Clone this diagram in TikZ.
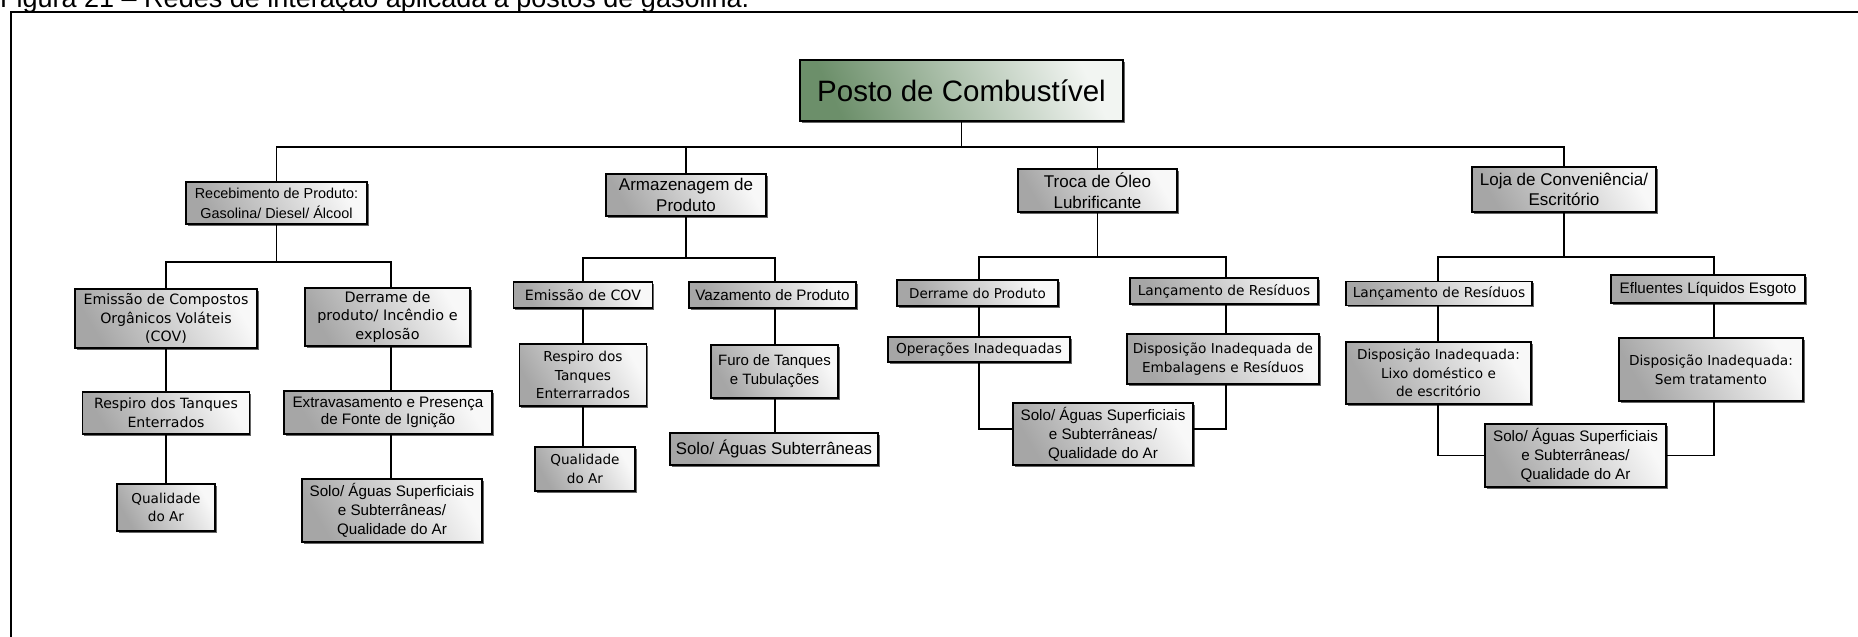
\documentclass[tikz,border=0pt]{standalone}
\usepackage{fontspec}
\setmainfont{Liberation Sans}
\newfontfamily\dejavu{DejaVu Sans}
\usetikzlibrary{shadows}

% greens of the root box, greys of the other boxes
\definecolor{gL}{HTML}{6C8F6A}
\definecolor{gM}{HTML}{B6CAB5}
\definecolor{gR}{HTML}{F2F5F2}
\definecolor{bL}{HTML}{A6A6A6}
\definecolor{bM}{HTML}{DADADA}
\definecolor{bR}{HTML}{F8F8F8}

\tikzset{
  wire/.style={line width=1.2pt, black},
  sz/.style 2 args={minimum width=#1pt, minimum height=#2pt},
  box/.style={draw=black, line width=1.3pt,
    left color=bL, middle color=bM, right color=bR, shading angle=120,
    inner sep=0pt, align=center,
    drop shadow={shadow xshift=1.6pt, shadow yshift=-1.6pt, fill=black, opacity=0.6}},
  rootbox/.style={draw=black, line width=1.8pt,
    left color=gL, middle color=gM, right color=gR, shading angle=115,
    inner sep=0pt, align=center,
    drop shadow={shadow xshift=1.8pt, shadow yshift=-1.8pt, fill=black, opacity=0.6}},
  dv/.style={font={\dejavu\fontsize{#1}{18.8}\selectfont}},
  ar/.style={font={\fontsize{#1}{19}\selectfont}},
  head/.style={font={\fontsize{17}{20.7}\selectfont}},
}

\begin{document}
\begin{tikzpicture}[x=1pt,y=-1pt]
\useasboundingbox (0,0) rectangle (1858,637);
\clip (0,0) rectangle (1858,637);

% caption, partly above the page edge
\node[anchor=base west, inner sep=0pt, font={\fontsize{27}{31}\selectfont}]
  (caption) at (0,7) {Figura 21 – Redes de interação aplicada a postos de gasolina.};

% frame
\draw[line width=1.6pt] (11,640) -- (11,12) -- (1860,12);

% root
\node[rootbox, sz={323}{61}, font={\fontsize{29.5}{34}\selectfont}]
  (posto) at (961.5,90.5) {Posto de Combustível};

% first level
\node[box, sz={181}{42}, font={\fontsize{14.4}{20}\selectfont}]
  (receb) at (276.5,203) {Recebimento de Produto:\\Gasolina/ Diesel/ Álcool};
\node[box, sz={160}{42}, head] (armaz) at (686,195) {Armazenagem de\\Produto};
\node[box, sz={159}{43}, head] (troca) at (1097.5,190.5) {Troca de Óleo\\Lubrificante};
\node[box, sz={184}{45}, head] (loja) at (1564,189.5) {Loja de Conveniência/\\Escritório};

% branch: receiving
\node[box, sz={182}{59}, dv=14.2] (emis1) at (166,318.5) {Emissão de Compostos\\Orgânicos Voláteis\\(COV)};
\node[box, sz={165}{58}, dv=14.4] (derr1) at (387.5,317) {Derrame de\\produto/ Incêndio e\\explosão};
\node[box, sz={167}{42}, dv=14.1] (resp1) at (166,413) {Respiro dos Tanques\\Enterrados};
\node[box, sz={98}{47}, dv=13.6] (qual1) at (166,507.5) {Qualidade\\do Ar};
\node[box, sz={208}{43}, font={\fontsize{15.2}{17.5}\selectfont}] (extr1) at (388,412.5) {Extravasamento e Presença\\de Fonte de Ignição};
\node[box, sz={180}{63}, ar=15.2] (solo1) at (392,510.5) {Solo/ Águas Superficiais\\e Subterrâneas/\\Qualidade do Ar};

% branch: storage
\node[box, sz={139}{26}, dv=14.2] (emcov) at (583,295) {Emissão de COV};
\node[box, sz={167}{26}, ar=15.2] (vaz) at (772.5,295) {Vazamento de Produto};
\node[box, sz={127}{62}, dv=13.7] (resp2) at (583,375) {Respiro dos\\Tanques\\Enterrarrados};
\node[box, sz={100}{44}, dv=13.6] (qual2) at (585,469) {Qualidade\\do Ar};
\node[box, sz={127}{53}, ar=15] (furo) at (774.5,371.5) {Furo de Tanques\\e Tubulações};
\node[box, sz={208}{32}, ar=16.8] (solosub) at (774,449) {Solo/ Águas Subterrâneas};

% branch: oil change
\node[box, sz={161}{26}, dv=13.5] (derr2) at (977.5,293) {Derrame do Produto};
\node[box, sz={188}{26}, dv=13.75] (lanc1) at (1224,291) {Lançamento de Resíduos};
\node[box, sz={182}{25}, dv=13.7] (oper) at (979,349.5) {Operações Inadequadas};
\node[box, sz={192}{50}, font={\dejavu\fontsize{13.65}{19.3}\selectfont}] (dispemb) at (1223,359) {Disposição Inadequada de\\Embalagens e Resíduos};
\node[box, sz={180}{62}, ar=15.2] (solo3) at (1103,434) {Solo/ Águas Superficiais\\e Subterrâneas/\\Qualidade do Ar};

% branch: shop and office
\node[box, sz={186}{24}, dv=13.75] (lanc2) at (1439,293.5) {Lançamento de Resíduos};
\node[box, sz={194}{28}, ar=15.2] (eflu) at (1708,289) {Efluentes Líquidos Esgoto};
\node[box, sz={185}{62}, dv=13.6] (lixo) at (1438.5,373) {Disposição Inadequada:\\Lixo doméstico e\\de escritório};
\node[box, sz={184}{63}, dv=13.7] (semtr) at (1711,369.5) {Disposição Inadequada:\\Sem tratamento};
\node[box, sz={181}{63}, ar=15.2] (solo4) at (1575.5,455.5) {Solo/ Águas Superficiais\\e Subterrâneas/\\Qualidade do Ar};

% bus lines and columns
\coordinate (busY) at (0,147);
\coordinate (g1y) at (0,262);
\coordinate (g2y) at (0,258);
\coordinate (g3y) at (0,257);
\coordinate (g4y) at (0,257);
\coordinate (g1r) at (391,0);
\coordinate (g2l) at (583,0);
\coordinate (g2r) at (775,0);
\coordinate (g3l) at (979,0);
\coordinate (g3r) at (1226,0);
\coordinate (g4l) at (1438,0);
\coordinate (g4r) at (1714,0);

% root to first level
\draw[wire] (posto.south) -- (posto.south |- busY);
\draw[wire] (receb.north) -- (receb.north |- busY) -- (loja.north |- busY) -- (loja.north);
\draw[wire] (armaz.north) -- (armaz.north |- busY);
\draw[wire] (troca.north) -- (troca.north |- busY);

% receiving
\draw[wire] (receb.south) -- (receb.south |- g1y);
\draw[wire] (emis1.north) -- (emis1.north |- g1y) -- (g1r |- g1y) -- (derr1.north -| g1r);
\draw[wire] (emis1.south) -- (resp1.north);
\draw[wire] (resp1.south) -- (qual1.north);
\draw[wire] (derr1.south -| g1r) -- (extr1.north -| g1r);
\draw[wire] (extr1.south -| g1r) -- (solo1.north -| g1r);

% storage
\draw[wire] (armaz.south) -- (armaz.south |- g2y);
\draw[wire] (emcov.north -| g2l) -- (g2l |- g2y) -- (g2r |- g2y) -- (vaz.north -| g2r);
\draw[wire] (emcov.south -| g2l) -- (resp2.north -| g2l);
\draw[wire] (resp2.south -| g2l) -- (qual2.north -| g2l);
\draw[wire] (vaz.south -| g2r) -- (furo.north -| g2r);
\draw[wire] (furo.south -| g2r) -- (solosub.north -| g2r);

% oil change
\draw[wire] (troca.south) -- (troca.south |- g3y);
\draw[wire] (derr2.north -| g3l) -- (g3l |- g3y) -- (g3r |- g3y) -- (lanc1.north -| g3r);
\draw[wire] (derr2.south -| g3l) -- (oper.north -| g3l);
\draw[wire] (lanc1.south -| g3r) -- (dispemb.north -| g3r);
\draw[wire] (oper.south -| g3l) |- ([yshift=5pt]solo3.west);
\draw[wire] (dispemb.south -| g3r) |- ([yshift=5pt]solo3.east);

% shop and office
\draw[wire] (loja.south) -- (loja.south |- g4y);
\draw[wire] (lanc2.north -| g4l) -- (g4l |- g4y) -- (g4r |- g4y) -- (eflu.north -| g4r);
\draw[wire] (lanc2.south -| g4l) -- (lixo.north -| g4l);
\draw[wire] (eflu.south -| g4r) -- (semtr.north -| g4r);
\draw[wire] (lixo.south -| g4l) |- (solo4.west);
\draw[wire] (semtr.south -| g4r) |- (solo4.east);
\end{tikzpicture}
\end{document}
